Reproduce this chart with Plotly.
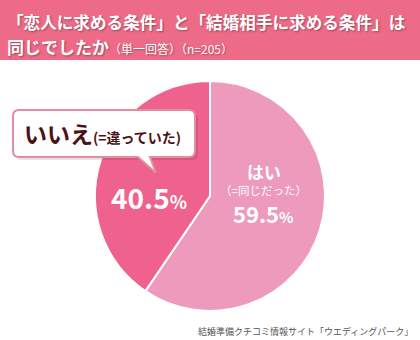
import plotly.graph_objects as go

W, H = 420, 340

labels = ["はい", "いいえ"]
values = [59.5, 40.5]
slice_colors = ["#EE9ABD", "#F0628E"]
title_line1 = "「恋人に求める条件」と「結婚相手に求める条件」は"
title_line2 = "同じでしたか"
title_sub = "（単一回答）（n=205）"
source = "結婚準備クチコミ情報サイト「ウエディングパーク」"
yes_label = "はい"
yes_sub = "（=同じだった）"
no_label = "いいえ"
no_sub = "(=違っていた)"

FONT = "Noto Sans CJK JP"

def px(x):
    return x / W

def py(y):
    return 1 - y / H

cx, cy, r = 210, 196, 115

fig = go.Figure()
fig.add_trace(go.Pie(
    labels=labels, values=values, sort=False, direction="clockwise", rotation=0,
    marker=dict(colors=slice_colors, line=dict(color="white", width=2)),
    textinfo="none", hoverinfo="label+value", showlegend=False,
    domain=dict(x=[px(cx - r), px(cx + r)], y=[py(cy + r), py(cy - r)]),
))

shapes = []
shapes.append(dict(type="rect", xref="paper", yref="paper", x0=0, x1=1, y0=py(60), y1=1,
                   fillcolor="#EE6B88", line=dict(width=0), layer="below"))

def callout_path(x0, y0, x1, y1, rad, tx0, tx1, tipx, tipy):
    def P(x, y):
        return f"{px(x)},{py(y)}"
    return (f"M {P(x0+rad, y0)} L {P(x1-rad, y0)} Q {P(x1, y0)} {P(x1, y0+rad)} "
            f"L {P(x1, y1-rad)} Q {P(x1, y1)} {P(x1-rad, y1)} "
            f"L {P(tx1, y1)} L {P(tipx, tipy)} L {P(tx0, y1)} "
            f"L {P(x0+rad, y1)} Q {P(x0, y1)} {P(x0, y1-rad)} "
            f"L {P(x0, y0+rad)} Q {P(x0, y0)} {P(x0+rad, y0)} Z")

shapes.append(dict(type="path", xref="paper", yref="paper",
                   path=callout_path(15, 113, 198, 160, 6, 140, 152, 158, 176),
                   fillcolor="rgba(0,0,0,0.10)", line=dict(width=0)))
shapes.append(dict(type="path", xref="paper", yref="paper",
                   path=callout_path(13, 110, 195, 157, 6, 138, 150, 156, 173),
                   fillcolor="white", line=dict(color="#E48CA0", width=2)))

ann = []
shadow = "1px 1px 2px rgba(0,0,0,0.35)"
ann.append(dict(x=px(5), y=py(22), xanchor="left", yanchor="middle", showarrow=False,
                text=f"<b>{title_line1}</b>",
                font=dict(family=FONT, size=16.6, color="white", shadow=shadow)))
ann.append(dict(x=px(5), y=py(47), xanchor="left", yanchor="middle", showarrow=False,
                text=f"<b>{title_line2}</b><span style='font-size:12px'>{title_sub}</span>",
                font=dict(family=FONT, size=17, color="white", shadow=shadow)))
ann.append(dict(x=px(22), y=py(133), xanchor="left", yanchor="middle", showarrow=False,
                text=f"<b>{no_label}</b><b><span style='font-size:14px'>{no_sub}</span></b>",
                font=dict(family=FONT, size=23, color="#4B1214")))
ann.append(dict(x=px(149), y=py(197), xanchor="center", yanchor="middle", showarrow=False,
                text=f"<b>{values[1]}</b><b><span style='font-size:18px'>%</span></b>",
                font=dict(family=FONT, size=28, color="white")))
ann.append(dict(x=px(264), y=py(171), xanchor="center", yanchor="middle", showarrow=False,
                text=f"<b>{yes_label}</b>",
                font=dict(family=FONT, size=17, color="white")))
ann.append(dict(x=px(263), y=py(190), xanchor="center", yanchor="middle", showarrow=False,
                text=yes_sub, font=dict(family=FONT, size=11.5, color="white")))
ann.append(dict(x=px(263), y=py(213), xanchor="center", yanchor="middle", showarrow=False,
                text=f"<b>{values[0]}</b><b><span style='font-size:15px'>%</span></b>",
                font=dict(family=FONT, size=22, color="white")))
ann.append(dict(x=px(415), y=py(331), xanchor="right", yanchor="middle", showarrow=False,
                text=source, font=dict(family=FONT, size=9, color="#555555")))

fig.update_layout(width=W, height=H, margin=dict(l=0, r=0, t=0, b=0),
                  paper_bgcolor="white", plot_bgcolor="white",
                  shapes=shapes, annotations=ann)
fig.write_html("out.html")
